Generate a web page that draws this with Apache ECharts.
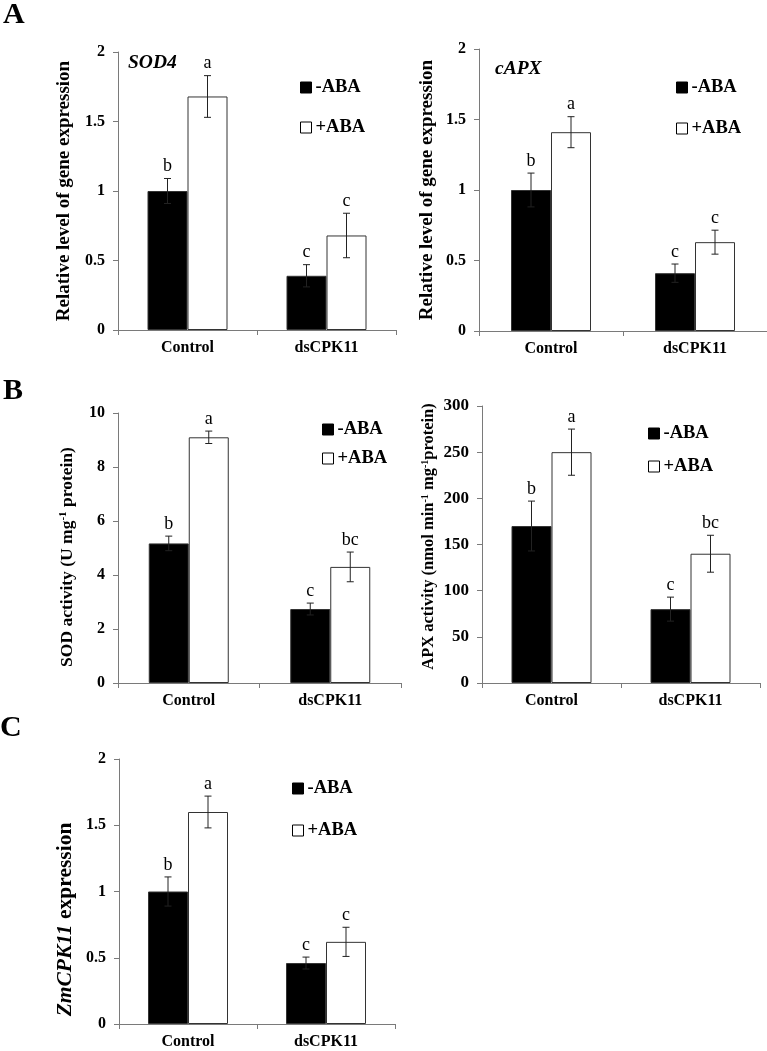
<!DOCTYPE html>
<html>
<head>
<meta charset="utf-8">
<script src="https://cdn.jsdelivr.net/npm/echarts@6/dist/echarts.min.js"></script>
<style>
html,body{margin:0;padding:0;background:#fff;}
#chart{width:767px;height:1051px;}
</style>
</head>
<body>
<div id="chart"></div>
<script>
// ---------- DATA ----------
const categories = ['Control', 'dsCPK11'];
const seriesNames = ['-ABA', '+ABA'];

// Panel A (left): SOD4 relative expression
const sod4Minus = [1.0, 0.39];
const sod4MinusErr = [0.09, 0.08];
const sod4Plus = [1.68, 0.68];
const sod4PlusErr = [0.15, 0.16];
const sod4MinusLetters = ['b', 'c'];
const sod4PlusLetters = ['a', 'c'];

// Panel A (right): cAPX relative expression
const capxMinus = [1.0, 0.41];
const capxMinusErr = [0.12, 0.065];
const capxPlus = [1.41, 0.63];
const capxPlusErr = [0.11, 0.085];
const capxMinusLetters = ['b', 'c'];
const capxPlusLetters = ['a', 'c'];

// Panel B (left): SOD activity
const sodActMinus = [5.17, 2.74];
const sodActMinusErr = [0.27, 0.22];
const sodActPlus = [9.1, 4.3];
const sodActPlusErr = [0.23, 0.55];
const sodActMinusLetters = ['b', 'c'];
const sodActPlusLetters = ['a', 'bc'];

// Panel B (right): APX activity
const apxActMinus = [170, 80];
const apxActMinusErr = [27, 13];
const apxActPlus = [250, 140];
const apxActPlusErr = [25, 20];
const apxActMinusLetters = ['b', 'c'];
const apxActPlusLetters = ['a', 'bc'];

// Panel C: ZmCPK11 expression
const cpkMinus = [1.0, 0.46];
const cpkMinusErr = [0.11, 0.045];
const cpkPlus = [1.6, 0.62];
const cpkPlusErr = [0.12, 0.11];
const cpkMinusLetters = ['b', 'c'];
const cpkPlusLetters = ['a', 'c'];

// Tick labels
const expressionTicks = [0, 0.5, 1, 1.5, 2];
const sodActTicks = [0, 2, 4, 6, 8, 10];
const apxActTicks = [0, 50, 100, 150, 200, 250, 300];

// ---------- LAYOUT / STYLE ----------
const FONT = '"Liberation Serif", "Times New Roman", serif';
const AXIS_COLOR = '#7a7a7a';
const BAR_W = 40;

const panels = [
  { grid: {left: 118, top: 52, width: 278, height: 278}, ticks: expressionTicks, tickSize: 16,
    minus: sod4Minus, minusErr: sod4MinusErr, plus: sod4Plus, plusErr: sod4PlusErr,
    minusLetters: sod4MinusLetters, plusLetters: sod4PlusLetters,
    name: 'Relative level of gene expression', nameSize: 19, nameGap: 44, namePad: 0,
    legend: {left: 295, top: 73, itemGap: 21} },
  { grid: {left: 479, top: 49, width: 288, height: 282}, ticks: expressionTicks, tickSize: 16,
    minus: capxMinus, minusErr: capxMinusErr, plus: capxPlus, plusErr: capxPlusErr,
    minusLetters: capxMinusLetters, plusLetters: capxPlusLetters,
    name: 'Relative level of gene expression', nameSize: 19, nameGap: 42, namePad: 0,
    legend: {left: 671, top: 73, itemGap: 22} },
  { grid: {left: 118, top: 413, width: 283, height: 270}, ticks: sodActTicks, tickSize: 16,
    minus: sodActMinus, minusErr: sodActMinusErr, plus: sodActPlus, plusErr: sodActPlusErr,
    minusLetters: sodActMinusLetters, plusLetters: sodActPlusLetters,
    name: 'SOD activity (U mg{sup|-1} protein)', nameSize: 17.5, nameGap: 42, namePad: 18,
    legend: {left: 317, top: 415, itemGap: 10} },
  { grid: {left: 482, top: 406, width: 278, height: 277}, ticks: apxActTicks, tickSize: 17,
    minus: apxActMinus, minusErr: apxActMinusErr, plus: apxActPlus, plusErr: apxActPlusErr,
    minusLetters: apxActMinusLetters, plusLetters: apxActPlusLetters,
    name: 'APX activity (nmol min{sup|-1} mg{sup|-1}protein)', nameSize: 16.5, nameGap: 45, namePad: -16,
    legend: {left: 643, top: 419, itemGap: 14} },
  { grid: {left: 119, top: 759, width: 276, height: 265}, ticks: expressionTicks, tickSize: 16,
    minus: cpkMinus, minusErr: cpkMinusErr, plus: cpkPlus, plusErr: cpkPlusErr,
    minusLetters: cpkMinusLetters, plusLetters: cpkPlusLetters,
    name: '{i|ZmCPK11} expression', nameSize: 21.5, nameGap: 43, namePad: 56,
    legend: {left: 287, top: 774, itemGap: 23} }
];

const grids = [], xAxes = [], yAxes = [], series = [], legends = [];

function errSeries(idx, values, errs, letters, offset) {
  return {
    type: 'custom', xAxisIndex: idx, yAxisIndex: idx, silent: true, z: 5,
    data: values.map((v, i) => [i, v, errs[i]]),
    encode: {x: 0, y: 1},
    renderItem: function (params, api) {
      const cat = api.value(0), v = api.value(1), e = api.value(2);
      const hi = api.coord([cat, v + e]);
      const lo = api.coord([cat, v - e]);
      const x = hi[0] + offset;
      const cap = 3.5;
      const st = {stroke: '#222', lineWidth: 1};
      return {
        type: 'group',
        children: [
          {type: 'line', shape: {x1: x, y1: hi[1], x2: x, y2: lo[1]}, style: st},
          {type: 'line', shape: {x1: x - cap, y1: hi[1], x2: x + cap, y2: hi[1]}, style: st},
          {type: 'line', shape: {x1: x - cap, y1: lo[1], x2: x + cap, y2: lo[1]}, style: st},
          {type: 'text', style: {text: letters[params.dataIndex], x: x, y: hi[1] - 3,
            align: 'center', verticalAlign: 'bottom', fontFamily: FONT, fontSize: 18, fill: '#000'}}
        ]
      };
    }
  };
}

panels.forEach((p, i) => {
  grids.push(Object.assign({containLabel: false}, p.grid));
  xAxes.push({
    type: 'category', gridIndex: i, data: categories,
    axisLine: {lineStyle: {color: AXIS_COLOR, width: 1}},
    axisTick: {show: true, length: 5, interval: 0, lineStyle: {color: AXIS_COLOR}},
    axisLabel: {fontFamily: FONT, fontSize: 16, fontWeight: 'bold', color: '#000', margin: 10}
  });
  const t = p.ticks;
  yAxes.push({
    type: 'value', gridIndex: i, min: t[0], max: t[t.length - 1], interval: t[1] - t[0],
    splitLine: {show: false},
    axisLine: {show: true, lineStyle: {color: AXIS_COLOR, width: 1}},
    axisTick: {show: true, length: 5, lineStyle: {color: AXIS_COLOR}},
    axisLabel: {fontFamily: FONT, fontSize: p.tickSize, fontWeight: 'bold', color: '#000', margin: 13},
    name: p.name, nameLocation: 'middle', nameGap: p.nameGap,
    nameTextStyle: {
      fontFamily: FONT, fontSize: p.nameSize, fontWeight: 'bold', color: '#000',
      padding: p.namePad > 0 ? [0, p.namePad, 0, 0] : (p.namePad < 0 ? [0, 0, 0, -p.namePad] : 0),
      rich: {
        sup: {fontFamily: FONT, fontSize: Math.round(p.nameSize * 0.6), fontWeight: 'bold', color: '#000',
              verticalAlign: 'top', lineHeight: Math.round(p.nameSize * 0.6)},
        i: {fontFamily: FONT, fontSize: p.nameSize, fontWeight: 'bold', fontStyle: 'italic', color: '#000'}
      }
    }
  });
  series.push({
    type: 'bar', name: seriesNames[0], xAxisIndex: i, yAxisIndex: i, data: p.minus,
    barWidth: BAR_W, barGap: '0%',
    itemStyle: {color: '#000', borderColor: '#333', borderWidth: 1}
  });
  series.push({
    type: 'bar', name: seriesNames[1], xAxisIndex: i, yAxisIndex: i, data: p.plus,
    barWidth: BAR_W, barGap: '0%',
    itemStyle: {color: '#fff', borderColor: '#333', borderWidth: 1}
  });
  series.push(errSeries(i, p.minus, p.minusErr, p.minusLetters, -BAR_W / 2));
  series.push(errSeries(i, p.plus, p.plusErr, p.plusLetters, BAR_W / 2));
  legends.push({
    left: p.legend.left, top: p.legend.top, orient: 'vertical', itemGap: p.legend.itemGap,
    icon: 'rect', itemWidth: 11, itemHeight: 11, selectedMode: false,
    textStyle: {fontFamily: FONT, fontSize: 18.5, fontWeight: 'bold', color: '#000', padding: [0, 0, 0, -1]},
    data: [
      {name: seriesNames[0], itemStyle: {color: '#000', borderColor: '#000', borderWidth: 1}},
      {name: seriesNames[1], itemStyle: {color: '#fff', borderColor: '#000', borderWidth: 1}}
    ]
  });
});

const chart = echarts.init(document.getElementById('chart'), null, {renderer: 'canvas'});
chart.setOption({
  animation: false,
  backgroundColor: '#fff',
  grid: grids, xAxis: xAxes, yAxis: yAxes, series: series, legend: legends,
  graphic: [
    {type: 'text', left: 3, top: 0, style: {text: 'A', fontFamily: FONT, fontSize: 30, fontWeight: 'bold', fill: '#000'}},
    {type: 'text', left: 3, top: 376, style: {text: 'B', fontFamily: FONT, fontSize: 30, fontWeight: 'bold', fill: '#000'}},
    {type: 'text', left: 0, top: 713, style: {text: 'C', fontFamily: FONT, fontSize: 30, fontWeight: 'bold', fill: '#000'}},
    {type: 'text', left: 128, top: 53, style: {text: 'SOD4', fontFamily: FONT, fontSize: 19.5, fontWeight: 'bold', fontStyle: 'italic', fill: '#000'}},
    {type: 'text', left: 495, top: 59, style: {text: 'cAPX', fontFamily: FONT, fontSize: 19.5, fontWeight: 'bold', fontStyle: 'italic', fill: '#000'}}
  ]
});
</script>
</body>
</html>
